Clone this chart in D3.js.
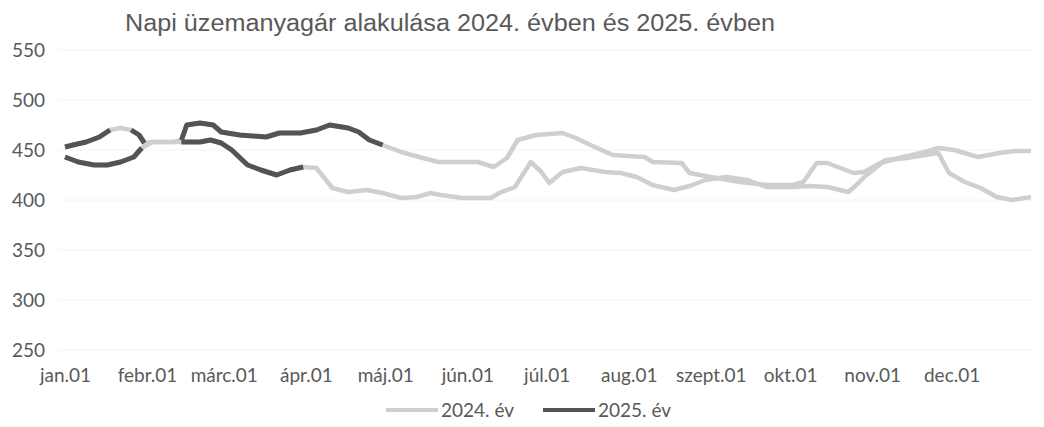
<!DOCTYPE html>
<html>
<head>
<meta charset="utf-8">
<script src="https://cdn.jsdelivr.net/npm/d3@7"></script>
<style>
  body { margin: 0; background: #fff; }
  svg { display: block; }
  .axis text { fill: #595959; font-family: Lato, "Open Sans", sans-serif; font-size: 19px; }
  .title { fill: #595959; font-family: "Liberation Sans", Arial, sans-serif; font-size: 23px; }
  .legend text { fill: #595959; font-family: Lato, sans-serif; font-size: 19px; }
</style>
</head>
<body>
<script>
// napok az év elejétől (0 = jan.01), ár Ft/l
var monthDays = [0, 31, 60, 91, 121, 152, 182, 213, 244, 274, 305, 335];
var monthLabels = ["jan.01", "febr.01", "márc.01", "ápr.01", "máj.01", "jún.01",
                   "júl.01", "aug.01", "szept.01", "okt.01", "nov.01", "dec.01"];
var yTicks = [250, 300, 350, 400, 450, 500, 550];

// 2024 - két vonal (világosszürke)
var line2024a = [[0,453],[3,455],[8,458],[13,463],[17,470],[21,472],[25,470],[28,465],[30,457],
  [34,458],[41,458],[44,460],[46,475],[51,477],[56,475],[59,468],[66,465],[76,463],[81,467],
  [89,467],[95,470],[100,475],[107,472],[111,468],[115,460],[120,455],[127,448],[131,445],
  [141,438],[156,438],[162,433],[167,442],[171,460],[178,465],[188,467],[193,462],[201,452],
  [207,445],[219,443],[222,438],[233,437],[236,427],[244,423],[255,418],[265,415],[275,415],
  [279,418],[284,437],[288,437],[293,432],[298,427],[302,428],[308,437],[315,442],[325,448],
  [330,452],[336,450],[345,443],[353,447],[359,449],[365,449]];
var line2024b = [[0,443],[5,438],[11,435],[16,435],[21,438],[26,443],[29,452],[33,458],[41,458],
  [44,458],[51,458],[55,460],[59,457],[63,450],[69,435],[74,430],[80,425],[85,430],[90,433],
  [95,432],[101,412],[107,408],[114,410],[120,407],[127,402],[133,403],[138,407],[142,405],
  [150,402],[161,402],[164,407],[170,413],[176,438],[180,428],[183,417],[188,428],[195,432],
  [204,428],[210,427],[216,423],[222,415],[230,410],[236,414],[242,420],[250,423],[258,420],
  [265,413],[275,413],[281,414],[288,413],[296,408],[299,415],[302,423],[310,440],[318,442],
  [325,445],[330,447],[334,427],[340,418],[346,412],[352,403],[358,400],[365,403]];

// 2025 - két vonal (sötétszürke), null = hiányzó adat
var line2025a = [[0,453],[3,455],[8,458],[13,463],[17,470],[20,null],[25,470],[28,465],[30,457],
  [37,null],[44,460],[46,475],[51,477],[56,475],[59,468],[66,465],[76,463],[81,467],[89,467],
  [95,470],[100,475],[107,472],[111,468],[115,460],[120,455]];
var line2025b = [[0,443],[5,438],[11,435],[16,435],[21,438],[26,443],[29,452],[37,null],
  [44,458],[51,458],[55,460],[59,457],[63,450],[69,435],[74,430],[80,425],[85,430],[90,433]];

var width = 1044, height = 427;
var x = d3.scaleLinear().domain([0, 365]).range([65, 1031]);
var y = d3.scaleLinear().domain([250, 550]).range([350, 50]);

var svg = d3.select('body').append('svg')
            .attr('width', width)
            .attr('height', height);
svg.append('rect').attr('width', width).attr('height', height).attr('fill', '#fff');

svg.append('text').attr('class', 'title')
   .attr('x', 125).attr('y', 31)
   .attr('textLength', 650).attr('lengthAdjust', 'spacingAndGlyphs')
   .text('Napi üzemanyagár alakulása 2024. évben és 2025. évben');

// gridlines
svg.append('g').selectAll('line').data(yTicks).enter().append('line')
   .attr('x1', 58).attr('x2', 1035)
   .attr('y1', function(d){return y(d);}).attr('y2', function(d){return y(d);})
   .attr('stroke', '#f4f4f4').attr('stroke-width', 1);

var yAxis = d3.axisLeft(y).tickValues(yTicks).tickSize(0).tickPadding(0);
svg.append('g').attr('class', 'axis').attr('transform', 'translate(45,0)').call(yAxis)
   .call(function(g){ g.select('.domain').remove(); });

var xAxis = d3.axisBottom(x).tickValues(monthDays).tickSize(0).tickPadding(0)
              .tickFormat(function(d, i){ return monthLabels[i]; });
svg.append('g').attr('class', 'axis').attr('transform', 'translate(0,368)').call(xAxis)
   .call(function(g){ g.select('.domain').remove(); });

var line = d3.line()
             .defined(function(d){ return d[1] != null; })
             .x(function(d){ return x(d[0]); })
             .y(function(d){ return y(d[1]); });

[line2024a, line2024b].forEach(function(s){
  svg.append('path').attr('d', line(s)).attr('fill', 'none')
     .attr('stroke', '#cfcfcf').attr('stroke-width', 4.5).attr('stroke-linejoin', 'round');
});
[line2025a, line2025b].forEach(function(s){
  svg.append('path').attr('d', line(s)).attr('fill', 'none')
     .attr('stroke', '#545454').attr('stroke-width', 5).attr('stroke-linejoin', 'round');
});

// legend
var legendItems = [{label: '2024. év', color: '#cfcfcf'}, {label: '2025. év', color: '#545454'}];
var legend = svg.append('g').attr('class', 'legend');
legendItems.forEach(function(d, i){
  var lx = 386 + i * 157;
  legend.append('line').attr('x1', lx).attr('x2', lx + 52).attr('y1', 410).attr('y2', 410)
        .attr('stroke', d.color).attr('stroke-width', 4);
  legend.append('text').attr('x', lx + 55).attr('y', 417).text(d.label);
});
</script>
</body>
</html>
